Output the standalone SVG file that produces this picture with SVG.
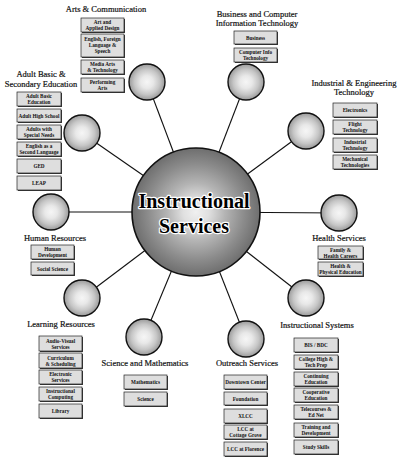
<svg xmlns="http://www.w3.org/2000/svg" width="400" height="460" viewBox="0 0 400 460">
<defs>
<radialGradient id="gs" cx="50%" cy="50%" r="50%">
<stop offset="0" stop-color="#f6f6f6"/>
<stop offset="0.35" stop-color="#e8e8e8"/>
<stop offset="0.7" stop-color="#c6c6c6"/>
<stop offset="1" stop-color="#9a9a9a"/>
</radialGradient>
<radialGradient id="gc" cx="50%" cy="50%" r="50%">
<stop offset="0" stop-color="#f0f0f0"/>
<stop offset="0.2" stop-color="#e0e0e0"/>
<stop offset="0.45" stop-color="#b4b4b4"/>
<stop offset="0.75" stop-color="#8c8c8c"/>
<stop offset="1" stop-color="#6e6e6e"/>
</radialGradient>
</defs>
<style>
.ln{stroke:#111;stroke-width:1.1;fill:none}
.sat{fill:url(#gs);stroke:#111;stroke-width:1.4}
.hub{fill:url(#gc);stroke:#111;stroke-width:1.6}
.ttl{font-family:"Liberation Serif","Times New Roman",serif;font-size:8.5px;fill:#111;stroke:#111;stroke-width:0.2;text-anchor:middle}
.sh{fill:#3a3a3a}
.bx{fill:#dedede;stroke:#222;stroke-width:0.7}
.bt{font-family:"Liberation Serif","Times New Roman",serif;font-size:5.2px;font-weight:bold;fill:#111;text-anchor:middle}
.big{font-family:"Liberation Serif","Times New Roman",serif;font-size:20px;font-weight:bold;fill:#000;stroke:#fff;stroke-width:2.4;paint-order:stroke;stroke-linejoin:round;text-anchor:middle}
</style>
<rect width="400" height="460" fill="#fff"/>
<g id="connectors">
<line class="ln" x1="196" y1="212" x2="147" y2="82"/>
<line class="ln" x1="196" y1="212" x2="82" y2="133"/>
<line class="ln" x1="196" y1="212" x2="246" y2="82"/>
<line class="ln" x1="196" y1="212" x2="306" y2="131"/>
<line class="ln" x1="196" y1="212" x2="51" y2="212"/>
<line class="ln" x1="196" y1="212" x2="339" y2="213"/>
<line class="ln" x1="196" y1="212" x2="82" y2="298"/>
<line class="ln" x1="196" y1="212" x2="144" y2="337"/>
<line class="ln" x1="196" y1="212" x2="246" y2="339"/>
<line class="ln" x1="196" y1="212" x2="306" y2="298"/>
</g>
<g id="hub">
<circle class="hub" cx="196" cy="212" r="64"/>
<text class="big" x="194" y="208">Instructional</text>
<text class="big" x="194" y="233">Services</text>
</g>
<g id="arts">
<circle class="sat" cx="147" cy="82" r="18"/>
<text class="ttl" x="106" y="12">Arts &amp; Communication</text>
<rect class="sh" x="82" y="19" width="43" height="14"/><rect class="bx" x="81" y="18" width="43" height="14"/>
<text class="bt" x="102.5" y="24">Art and</text><text class="bt" x="102.5" y="30">Applied Design</text>
<rect class="sh" x="82" y="35" width="43" height="23"/><rect class="bx" x="81" y="34" width="43" height="23"/>
<text class="bt" x="102.5" y="40.5">English, Foreign</text><text class="bt" x="102.5" y="46.5">Language &amp;</text><text class="bt" x="102.5" y="52.5">Speech</text>
<rect class="sh" x="82" y="61" width="43" height="14"/><rect class="bx" x="81" y="60" width="43" height="14"/>
<text class="bt" x="102.5" y="66">Media Arts</text><text class="bt" x="102.5" y="72">&amp; Technology</text>
<rect class="sh" x="82" y="79" width="43" height="14"/><rect class="bx" x="81" y="78" width="43" height="14"/>
<text class="bt" x="102.5" y="84">Performing</text><text class="bt" x="102.5" y="90">Arts</text>
</g>
<g id="adult">
<circle class="sat" cx="82" cy="133" r="18"/>
<text class="ttl" x="41" y="77">Adult Basic &amp;</text>
<text class="ttl" x="41" y="87">Secondary Education</text>
<rect class="sh" x="18" y="93" width="44" height="14"/><rect class="bx" x="17" y="92" width="44" height="14"/>
<text class="bt" x="39" y="98">Adult Basic</text><text class="bt" x="39" y="104">Education</text>
<rect class="sh" x="18" y="110" width="44" height="13"/><rect class="bx" x="17" y="109" width="44" height="13"/>
<text class="bt" x="39" y="117.5">Adult High School</text>
<rect class="sh" x="18" y="126" width="44" height="14"/><rect class="bx" x="17" y="125" width="44" height="14"/>
<text class="bt" x="39" y="131">Adults with</text><text class="bt" x="39" y="137">Special Needs</text>
<rect class="sh" x="18" y="143" width="44" height="14"/><rect class="bx" x="17" y="142" width="44" height="14"/>
<text class="bt" x="39" y="148">English as a</text><text class="bt" x="39" y="154">Second Language</text>
<rect class="sh" x="18" y="160" width="44" height="14"/><rect class="bx" x="17" y="159" width="44" height="14"/>
<text class="bt" x="39" y="168">GED</text>
<rect class="sh" x="18" y="177" width="44" height="14"/><rect class="bx" x="17" y="176" width="44" height="14"/>
<text class="bt" x="39" y="185">LEAP</text>
</g>
<g id="business">
<circle class="sat" cx="246" cy="82" r="18"/>
<text class="ttl" x="257" y="17">Business and Computer</text>
<text class="ttl" x="257" y="26">Information Technology</text>
<rect class="sh" x="235" y="32" width="43" height="13"/><rect class="bx" x="234" y="31" width="43" height="13"/>
<text class="bt" x="255.5" y="39.5">Business</text>
<rect class="sh" x="235" y="49" width="43" height="14"/><rect class="bx" x="234" y="48" width="43" height="14"/>
<text class="bt" x="255.5" y="54">Computer Info</text><text class="bt" x="255.5" y="60">Technology</text>
</g>
<g id="industrial">
<circle class="sat" cx="306" cy="131" r="18"/>
<text class="ttl" x="354" y="86">Industrial &amp; Engineering</text>
<text class="ttl" x="354" y="95">Technology</text>
<rect class="sh" x="334" y="104" width="44" height="14"/><rect class="bx" x="333" y="103" width="44" height="14"/>
<text class="bt" x="355" y="112">Electronics</text>
<rect class="sh" x="334" y="121" width="44" height="14"/><rect class="bx" x="333" y="120" width="44" height="14"/>
<text class="bt" x="355" y="126">Flight</text><text class="bt" x="355" y="132">Technology</text>
<rect class="sh" x="334" y="139" width="44" height="14"/><rect class="bx" x="333" y="138" width="44" height="14"/>
<text class="bt" x="355" y="144">Industrial</text><text class="bt" x="355" y="150">Technology</text>
<rect class="sh" x="334" y="156" width="44" height="14"/><rect class="bx" x="333" y="155" width="44" height="14"/>
<text class="bt" x="355" y="161">Mechanical</text><text class="bt" x="355" y="167">Technologies</text>
</g>
<g id="human">
<circle class="sat" cx="51" cy="212" r="18"/>
<text class="ttl" x="55" y="241">Human Resources</text>
<rect class="sh" x="32" y="246" width="43" height="14"/><rect class="bx" x="31" y="245" width="43" height="14"/>
<text class="bt" x="52.5" y="251">Human</text><text class="bt" x="52.5" y="257">Development</text>
<rect class="sh" x="32" y="263" width="43" height="13"/><rect class="bx" x="31" y="262" width="43" height="13"/>
<text class="bt" x="52.5" y="270.5">Social Science</text>
</g>
<g id="health">
<circle class="sat" cx="339" cy="213" r="18"/>
<text class="ttl" x="339" y="241">Health Services</text>
<rect class="sh" x="319" y="247" width="45" height="13"/><rect class="bx" x="318" y="246" width="45" height="13"/>
<text class="bt" x="340.5" y="251.5">Family &amp;</text><text class="bt" x="340.5" y="257.5">Health Careers</text>
<rect class="sh" x="319" y="263" width="45" height="14"/><rect class="bx" x="318" y="262" width="45" height="14"/>
<text class="bt" x="340.5" y="268">Health &amp;</text><text class="bt" x="340.5" y="274">Physical Education</text>
</g>
<g id="learning">
<circle class="sat" cx="82" cy="298" r="18"/>
<text class="ttl" x="61" y="327">Learning Resources</text>
<rect class="sh" x="40" y="337" width="43" height="15"/><rect class="bx" x="39" y="336" width="43" height="15"/>
<text class="bt" x="60.5" y="342.5">Audio-Visual</text><text class="bt" x="60.5" y="348.5">Services</text>
<rect class="sh" x="40" y="354" width="43" height="15"/><rect class="bx" x="39" y="353" width="43" height="15"/>
<text class="bt" x="60.5" y="359.5">Curriculum</text><text class="bt" x="60.5" y="365.5">&amp; Scheduling</text>
<rect class="sh" x="40" y="371" width="43" height="14"/><rect class="bx" x="39" y="370" width="43" height="14"/>
<text class="bt" x="60.5" y="376">Electronic</text><text class="bt" x="60.5" y="382">Services</text>
<rect class="sh" x="40" y="388" width="43" height="14"/><rect class="bx" x="39" y="387" width="43" height="14"/>
<text class="bt" x="60.5" y="393">Instructional</text><text class="bt" x="60.5" y="399">Computing</text>
<rect class="sh" x="40" y="405" width="43" height="14"/><rect class="bx" x="39" y="404" width="43" height="14"/>
<text class="bt" x="60.5" y="413">Library</text>
</g>
<g id="science">
<circle class="sat" cx="144" cy="337" r="18"/>
<text class="ttl" x="145" y="366">Science and Mathematics</text>
<rect class="sh" x="125" y="376" width="43" height="14"/><rect class="bx" x="124" y="375" width="43" height="14"/>
<text class="bt" x="145.5" y="384">Mathematics</text>
<rect class="sh" x="125" y="393" width="43" height="14"/><rect class="bx" x="124" y="392" width="43" height="14"/>
<text class="bt" x="145.5" y="401">Science</text>
</g>
<g id="outreach">
<circle class="sat" cx="246" cy="339" r="18"/>
<text class="ttl" x="247" y="366">Outreach Services</text>
<rect class="sh" x="225" y="376" width="43" height="14"/><rect class="bx" x="224" y="375" width="43" height="14"/>
<text class="bt" x="245.5" y="384">Downtown Center</text>
<rect class="sh" x="225" y="393" width="43" height="13"/><rect class="bx" x="224" y="392" width="43" height="13"/>
<text class="bt" x="245.5" y="400.5">Foundation</text>
<rect class="sh" x="225" y="410" width="43" height="14"/><rect class="bx" x="224" y="409" width="43" height="14"/>
<text class="bt" x="245.5" y="418">XLCC</text>
<rect class="sh" x="225" y="426" width="43" height="14"/><rect class="bx" x="224" y="425" width="43" height="14"/>
<text class="bt" x="245.5" y="431">LCC at</text><text class="bt" x="245.5" y="437">Cottage Grove</text>
<rect class="sh" x="225" y="443" width="43" height="14"/><rect class="bx" x="224" y="442" width="43" height="14"/>
<text class="bt" x="245.5" y="451">LCC at Florence</text>
</g>
<g id="systems">
<circle class="sat" cx="306" cy="298" r="18"/>
<text class="ttl" x="317" y="328">Instructional Systems</text>
<rect class="sh" x="295" y="339" width="44" height="14"/><rect class="bx" x="294" y="338" width="44" height="14"/>
<text class="bt" x="316" y="347">BIS / BDC</text>
<rect class="sh" x="295" y="356" width="44" height="14"/><rect class="bx" x="294" y="355" width="44" height="14"/>
<text class="bt" x="316" y="361">College High &amp;</text><text class="bt" x="316" y="367">Tech Prep</text>
<rect class="sh" x="295" y="373" width="44" height="14"/><rect class="bx" x="294" y="372" width="44" height="14"/>
<text class="bt" x="316" y="378">Continuing</text><text class="bt" x="316" y="384">Education</text>
<rect class="sh" x="295" y="389" width="44" height="14"/><rect class="bx" x="294" y="388" width="44" height="14"/>
<text class="bt" x="316" y="394">Cooperative</text><text class="bt" x="316" y="400">Education</text>
<rect class="sh" x="295" y="406" width="44" height="14"/><rect class="bx" x="294" y="405" width="44" height="14"/>
<text class="bt" x="316" y="411">Telecourses &amp;</text><text class="bt" x="316" y="417">Ed Net</text>
<rect class="sh" x="295" y="424" width="44" height="14"/><rect class="bx" x="294" y="423" width="44" height="14"/>
<text class="bt" x="316" y="429">Training and</text><text class="bt" x="316" y="435">Development</text>
<rect class="sh" x="295" y="441" width="44" height="14"/><rect class="bx" x="294" y="440" width="44" height="14"/>
<text class="bt" x="316" y="449">Study Skills</text>
</g>
</svg>
